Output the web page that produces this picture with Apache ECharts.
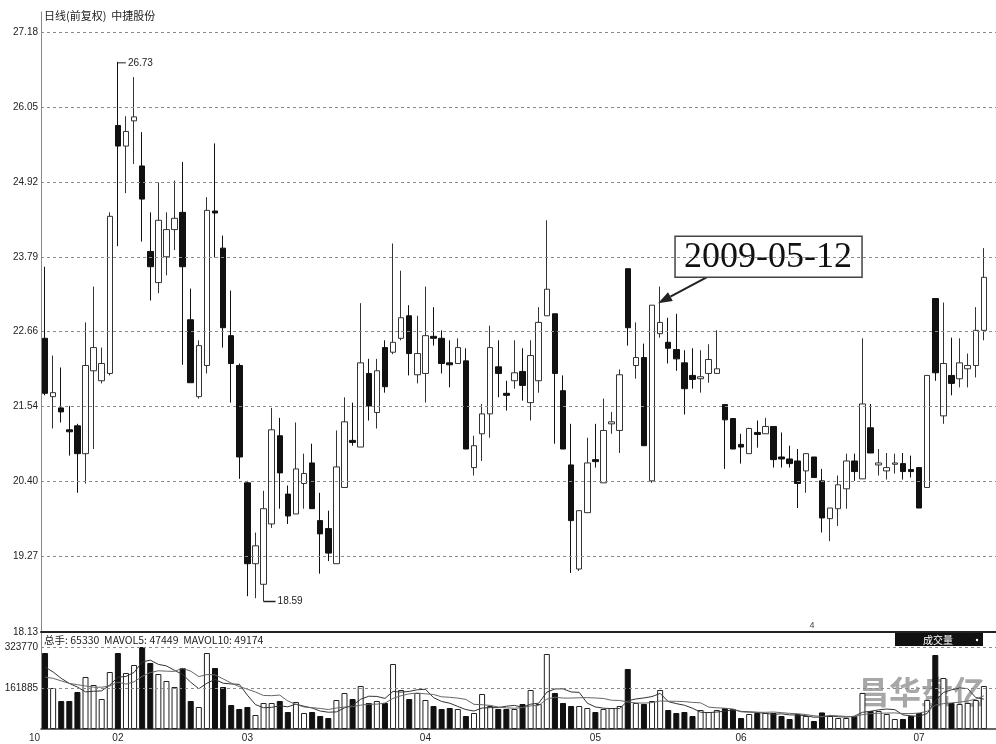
<!DOCTYPE html>
<html>
<head>
<meta charset="utf-8">
<script src="https://cdn.jsdelivr.net/npm/echarts@6/dist/echarts.min.js"></script>
<style>html,body{margin:0;padding:0;background:#fff}#c{width:996px;height:744px}</style>
</head>
<body>
<div id="c"></div>
<script>
// ---------- data ----------
const chartTitle = '日线(前复权)  中捷股份';
const volHeader = '总手: 65330  MAVOL5: 47449  MAVOL10: 49174';
const priceTicks = [18.13, 19.27, 20.40, 21.54, 22.66, 23.79, 24.92, 26.05, 27.18];
const volTicks = [161885, 323770];
const monthTickIdx = [9, 25, 47, 68, 86, 108];
const monthTickLabels = ['02', '03', '04', '05', '06', '07'];
const noteDate = '2009-05-12';
const noteIdx = 75;

const opens = [22.56,21.68,21.51,21.18,21.24,20.82,22.07,21.92,22.03,25.77,25.46,25.84,25.16,23.87,23.40,23.79,24.20,24.46,22.84,21.68,22.15,24.48,23.92,22.60,22.15,20.38,19.16,18.85,19.76,21.09,20.21,19.91,20.37,20.68,19.81,19.69,19.16,20.31,21.02,20.92,22.03,21.44,22.42,22.35,22.56,22.90,22.01,22.03,22.59,22.56,22.19,22.18,22.22,20.61,21.12,21.42,22.13,21.73,21.92,22.06,21.59,21.92,22.90,22.93,21.77,20.65,19.08,19.93,20.73,20.38,21.27,21.17,23.61,22.15,22.27,20.41,22.63,22.50,22.39,22.19,22.00,21.95,22.03,22.03,21.56,21.35,20.96,20.82,21.14,21.12,21.23,20.77,20.74,20.71,20.56,20.77,20.41,19.84,19.99,20.29,20.71,20.44,21.21,20.65,20.56,20.66,20.67,20.58,20.61,20.31,23.16,21.39,22.00,21.95,22.10,22.15,22.68];
const closes = [21.73,21.74,21.45,21.15,20.82,22.15,22.42,22.18,24.40,25.46,25.68,25.90,24.66,23.64,24.34,24.20,24.37,23.64,21.89,22.45,24.49,24.45,22.72,22.18,20.77,19.16,19.43,19.99,21.18,20.53,19.88,20.59,20.52,19.99,19.61,19.32,20.62,21.30,20.99,22.19,21.54,22.07,21.83,22.50,22.87,22.33,22.33,22.60,22.56,22.18,22.16,22.42,20.89,20.94,21.42,22.42,22.03,21.70,22.04,21.85,22.30,22.80,23.30,22.03,20.89,19.81,19.96,20.68,20.70,21.17,21.30,22.01,22.72,22.27,20.94,23.06,22.80,22.41,22.25,21.80,21.94,21.98,22.24,22.10,21.33,20.89,20.92,21.20,21.11,21.23,20.73,20.74,20.67,20.37,20.82,20.46,19.85,20.00,20.35,20.71,20.55,21.57,20.83,20.68,20.61,20.68,20.55,20.55,20.00,22.00,22.04,22.18,21.88,22.19,22.15,22.68,23.48];
const lows = [21.70,21.20,21.29,20.79,20.23,20.37,20.89,21.88,22.00,23.95,24.75,25.19,24.02,23.13,23.24,23.51,23.89,22.16,21.89,21.65,22.03,23.78,22.42,21.59,20.44,18.67,18.64,18.59,19.70,19.99,19.76,19.91,19.99,19.99,19.01,19.20,19.16,20.31,20.94,20.92,21.32,21.20,21.74,22.32,22.53,22.00,21.88,21.59,22.45,22.03,21.82,22.18,20.89,20.49,20.71,21.06,21.67,21.47,21.80,21.62,21.32,21.74,22.90,20.97,20.89,19.02,19.05,19.93,20.61,20.38,21.12,20.83,22.45,21.95,20.94,20.38,22.57,22.18,22.07,21.41,21.80,21.74,21.89,22.03,20.59,20.89,20.67,20.82,20.91,21.12,20.61,20.61,20.61,20.00,20.23,20.46,19.63,19.50,19.73,19.99,20.41,20.44,20.83,20.49,20.43,20.52,20.43,20.46,20.00,20.31,21.92,21.27,21.70,21.82,21.82,21.97,22.53];
const highs = [23.64,22.30,22.12,21.54,21.27,22.80,23.34,22.42,24.46,26.73,25.91,26.50,25.67,24.46,24.91,24.46,24.94,25.22,23.31,22.53,24.69,25.50,24.11,23.28,22.18,20.41,19.63,20.26,21.51,21.36,20.34,21.29,20.82,20.97,20.23,19.96,21.17,21.67,21.59,23.09,22.25,22.25,22.53,23.99,23.58,23.06,22.90,23.34,23.03,22.68,22.53,22.56,22.41,21.09,21.57,22.75,22.53,21.92,22.53,22.41,22.53,23.03,24.34,22.93,22.00,21.27,19.96,21.06,21.27,21.65,21.45,22.09,23.61,22.80,22.48,23.06,23.34,22.87,22.93,22.38,22.41,22.38,22.47,22.68,21.56,21.35,21.12,21.21,21.32,21.36,21.23,21.14,20.94,20.89,20.82,20.77,20.59,20.00,20.49,20.82,20.82,22.56,21.57,20.89,20.83,20.82,20.83,20.79,20.61,22.00,23.16,23.10,22.57,22.56,22.33,23.03,23.92];
const volumes = [300000,161900,110500,110500,146100,205300,173700,118400,225000,300000,221100,252700,323770,260600,217100,189500,165800,240800,110500,86900,300000,240800,165800,94800,79000,86900,55300,102600,102600,110500,67100,106600,63200,67100,51300,43400,114500,142100,118400,169800,102600,110500,102600,256600,154000,118400,142100,114500,90800,79000,82900,79000,51300,63200,138200,90800,79000,79000,79000,98700,154000,98700,296100,142100,102600,90800,90800,82900,67100,79000,82900,90800,236900,102600,98700,110500,154000,75000,63200,67100,51300,75000,67100,75000,82900,79000,43400,59200,63200,63200,63200,51300,39500,59200,51300,31600,65330,51300,43400,43400,51300,142100,71100,71100,59200,39500,39500,51300,63200,114500,292200,201300,102600,98700,102600,114500,169800];
const mavol5 = [245000,225000,200000,180000,165600,146600,149000,150600,173600,204400,207600,223400,264600,271800,255200,249000,231600,215000,184800,158800,180800,195800,180800,177800,176200,133600,96400,83800,85400,91600,87600,98000,90000,82800,71000,66200,67600,83400,93600,117400,129400,128600,120800,148600,145400,148400,154800,157000,123800,108800,101800,89200,76600,71000,82800,84400,84400,90000,93200,85400,98000,102000,145400,158000,158800,146200,144600,102000,87000,82200,80600,80600,111400,118600,122600,128000,140600,108200,100200,93800,82000,66200,64600,67000,70200,75800,69400,67800,65400,61400,58200,59800,55800,55000,52600,46400,47449,51600,48400,46800,50600,66000,70000,75600,78800,76400,55800,51800,50200,61200,111800,144200,154600,161800,159600,124000,117800];
const mavol10 = [205000,200000,190000,180000,175000,170000,165000,165000,170000,185000,177100,186200,207600,222700,229800,228300,227500,239800,228300,207000,214900,213700,197900,181300,167500,157200,146100,132300,131600,133900,110600,97200,86900,84100,81300,76900,82800,86700,88200,94200,97800,98100,102100,121100,131400,138900,141700,138900,136200,127100,125100,122000,116800,97400,95800,93100,86800,83300,82100,84100,91200,93200,117700,125600,122100,122100,123300,123700,122500,120500,113400,112600,106700,102800,102400,104300,110600,109800,109400,108200,105000,103400,86400,83600,82000,78900,67800,66200,66200,65800,67000,64600,61800,60200,57000,52300,49174,53700,51700,49700,48500,56700,60800,62000,62800,63500,60900,60900,62900,70000,94100,100000,103200,106000,110400,117900,131000];

// ---------- build ----------
const days = opens.map((_, i) => String(i + 1)).concat(['']);
const candleData = opens.map((o, i) => [o, closes[i], lows[i], highs[i]]);
const volData = volumes.map((v, i) => ({
  value: v,
  itemStyle: closes[i] >= opens[i]
    ? { color: '#fff', borderColor: '#222', borderWidth: 1 }
    : { color: '#111', borderColor: '#111', borderWidth: 1 }
}));

const chart = echarts.init(document.getElementById('c'), null, { renderer: 'canvas' });
const dash = { type: [3, 3], color: '#8a8a8a', width: 1 };
const labelFont = { fontSize: 10, color: '#222', fontFamily: '"Liberation Sans", Arial, sans-serif' };

chart.setOption({
  animation: false,
  backgroundColor: '#fff',
  grid: [
    { left: 41, right: 0, top: 12, height: 620 },
    { left: 41, right: 0, top: 633, height: 96 }
  ],
  xAxis: [
    { type: 'category', gridIndex: 0, data: days, boundaryGap: true,
      axisLine: { show: true, lineStyle: { color: '#222', width: 2 } },
      axisTick: { show: false }, axisLabel: { show: false }, splitLine: { show: false } },
    { type: 'category', gridIndex: 1, data: days, boundaryGap: true,
      axisLine: { show: true, lineStyle: { color: '#333', width: 1.5 } },
      axisTick: { show: false },
      axisLabel: Object.assign({
        interval: (i) => monthTickIdx.includes(i),
        formatter: (v, i) => { const k = monthTickIdx.indexOf(i); return k >= 0 ? monthTickLabels[k] : ''; },
        margin: 4
      }, labelFont),
      splitLine: { show: false } }
  ],
  yAxis: [
    { type: 'value', gridIndex: 0, min: 18.13, max: 27.482, scale: true,
      axisLine: { show: true, lineStyle: { color: '#888', width: 1 } },
      axisTick: { show: false, customValues: priceTicks },
      axisLabel: Object.assign({ customValues: priceTicks, formatter: (v) => v.toFixed(2), margin: 3 }, labelFont),
      splitLine: { show: false } },
    { type: 'value', gridIndex: 1, min: 0, max: 379000,
      axisLine: { show: true, lineStyle: { color: '#888', width: 1 } },
      axisTick: { show: false, customValues: volTicks },
      axisLabel: Object.assign({ customValues: volTicks, formatter: (v) => String(v), margin: 3 }, labelFont),
      splitLine: { show: false } }
  ],
  series: [
    { type: 'candlestick', xAxisIndex: 0, yAxisIndex: 0, data: candleData, barWidth: 6,
      itemStyle: { color: '#fff', color0: '#111', borderColor: '#333', borderColor0: '#111', borderWidth: 1 },
      markLine: { silent: true, symbol: 'none', label: { show: false }, lineStyle: dash,
        data: priceTicks.slice(1).map((v) => ({ yAxis: v })) } },
    { type: 'bar', xAxisIndex: 1, yAxisIndex: 1, data: volData, barWidth: 6,
      markLine: { silent: true, symbol: 'none', label: { show: false }, lineStyle: dash,
        data: volTicks.map((v) => ({ yAxis: v })) } },
    { type: 'line', xAxisIndex: 1, yAxisIndex: 1, data: mavol5, showSymbol: false, smooth: false,
      lineStyle: { color: '#333', width: 1 } },
    { type: 'line', xAxisIndex: 1, yAxisIndex: 1, data: mavol10, showSymbol: false, smooth: false,
      lineStyle: { color: '#666', width: 1 } }
  ]
});

// ---------- annotations (placed via the chart's own scales) ----------
function px(i, v) { return chart.convertToPixel({ gridIndex: 0 }, [i, v]); }
const hiIdx = highs.indexOf(Math.max(...highs));
const loIdx = lows.indexOf(Math.min(...lows));
const hp = px(hiIdx, highs[hiIdx]);
const lp = px(loIdx, lows[loIdx]);
const np = px(noteIdx, highs[noteIdx]);
const tip = [np[0] + 6, np[1] - 2];
const tail = [tip[0] + 49, tip[1] - 26];
const dx = tip[0] - tail[0], dy = tip[1] - tail[1];
const len = Math.sqrt(dx * dx + dy * dy), ux = dx / len, uy = dy / len;
const base = [tip[0] - ux * 14, tip[1] - uy * 14];
const head = [tip, [base[0] - uy * 5, base[1] + ux * 5], [base[0] + uy * 5, base[1] - ux * 5]];
const boxC = [tip[0] + 110, tip[1] - 47];
const smallFont = '10px "Liberation Sans", Arial, sans-serif';

chart.setOption({
  graphic: [
    { type: 'text', x: 44, y: 16, style: { text: chartTitle, font: '11px "Noto Sans CJK SC", sans-serif', fill: '#222', align: 'left', verticalAlign: 'middle' } },
    { type: 'text', x: 44, y: 640, style: { text: volHeader, font: '10.5px "Noto Sans CJK SC", sans-serif', fill: '#222', align: 'left', verticalAlign: 'middle' } },
    { type: 'rect', shape: { x: 895, y: 633, width: 88, height: 13 }, style: { fill: '#111' } },
    { type: 'text', x: 938, y: 640, style: { text: '成交量', font: '10px "Noto Sans CJK SC", sans-serif', fill: '#fff', align: 'center', verticalAlign: 'middle' } },
    { type: 'circle', shape: { cx: 977, cy: 640, r: 1.2 }, style: { fill: '#fff' } },
    { type: 'text', x: 812, y: 626, style: { text: '4', font: '9px "Liberation Sans", sans-serif', fill: '#444', align: 'center', verticalAlign: 'middle' } },
    { type: 'text', x: 40, y: 738, style: { text: '10', font: smallFont, fill: '#333', align: 'right', verticalAlign: 'middle' } },
    { type: 'line', shape: { x1: hp[0], y1: hp[1] + 1, x2: hp[0] + 8, y2: hp[1] + 1 }, style: { stroke: '#222', lineWidth: 1 } },
    { type: 'text', x: hp[0] + 10, y: hp[1] + 1, style: { text: highs[hiIdx].toFixed(2), font: smallFont, fill: '#222', align: 'left', verticalAlign: 'middle' } },
    { type: 'line', shape: { x1: lp[0], y1: lp[1], x2: lp[0] + 12, y2: lp[1] }, style: { stroke: '#222', lineWidth: 1.5 } },
    { type: 'text', x: lp[0] + 14, y: lp[1], style: { text: lows[loIdx].toFixed(2), font: smallFont, fill: '#222', align: 'left', verticalAlign: 'middle' } },
    { type: 'line', shape: { x1: tail[0], y1: tail[1], x2: base[0], y2: base[1] }, style: { stroke: '#222', lineWidth: 2 } },
    { type: 'polygon', shape: { points: head }, style: { fill: '#222' } },
    { type: 'rect', shape: { x: boxC[0] - 93, y: boxC[1] - 20, width: 187, height: 41 }, style: { fill: '#fff', stroke: '#444', lineWidth: 1.5 } },
    { type: 'text', x: boxC[0], y: boxC[1] + 1, style: { text: noteDate, font: '36px "Liberation Serif", "DejaVu Serif", serif', fill: '#111', align: 'center', verticalAlign: 'middle' } },
    { type: 'text', x: 921, y: 692, style: { text: '昌华盘亿', font: 'bold 32px "Noto Sans CJK SC", sans-serif', fill: 'rgba(95,95,95,0.55)', stroke: 'rgba(255,255,255,0.8)', lineWidth: 2, align: 'center', verticalAlign: 'middle' } }
  ]
});
</script>
</body>
</html>
